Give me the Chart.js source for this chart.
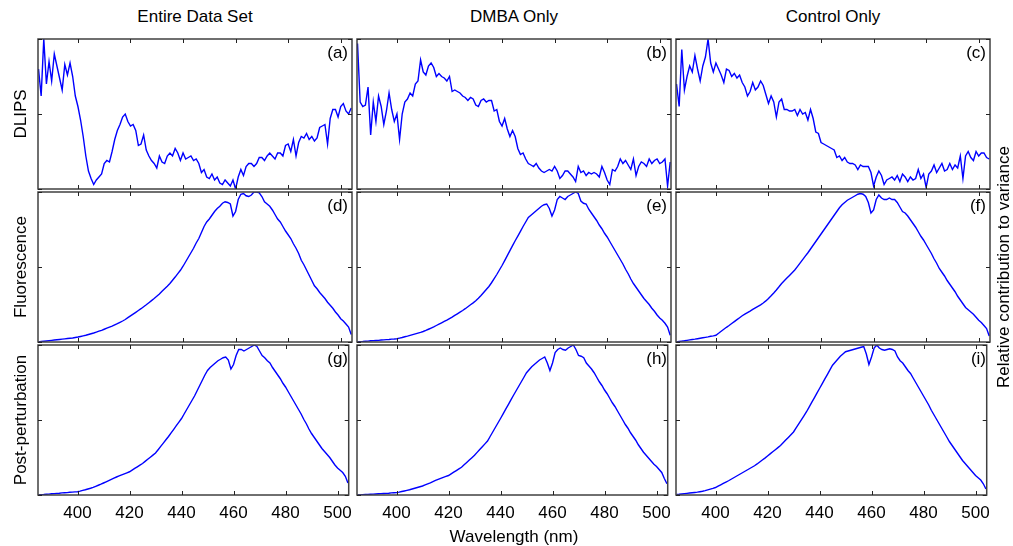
<!DOCTYPE html>
<html>
<head>
<meta charset="utf-8">
<script src="https://cdn.jsdelivr.net/npm/chart.js@4.4.1/dist/chart.umd.min.js"></script>
<style>
  body { margin: 0; background: #fff; }
  #fig { position: relative; width: 1013px; height: 546px; overflow: hidden;
         font-family: "Liberation Sans", Arial, sans-serif; color: #000; }
  #fig canvas { position: absolute; }
  .lbl { position: absolute; font-size: 17px; line-height: 20px; height: 20px; white-space: nowrap; text-align: center; }
  .rot { transform: rotate(-90deg); }
</style>
</head>
<body>
<div id="fig"></div>
<script>
// Wavelength grid (nm), one sample per nm
const wavelengths = [
  385, 386, 387, 388, 389, 390, 391, 392, 393, 394,
  395, 396, 397, 398, 399, 400, 401, 402, 403, 404,
  405, 406, 407, 408, 409, 410, 411, 412, 413, 414,
  415, 416, 417, 418, 419, 420, 421, 422, 423, 424,
  425, 426, 427, 428, 429, 430, 431, 432, 433, 434,
  435, 436, 437, 438, 439, 440, 441, 442, 443, 444,
  445, 446, 447, 448, 449, 450, 451, 452, 453, 454,
  455, 456, 457, 458, 459, 460, 461, 462, 463, 464,
  465, 466, 467, 468, 469, 470, 471, 472, 473, 474,
  475, 476, 477, 478, 479, 480, 481, 482, 483, 484,
  485, 486, 487, 488, 489, 490, 491, 492, 493, 494,
  495, 496, 497, 498, 499, 500, 501, 502, 503, 504
];
const xTicks = [400, 420, 440, 460, 480, 500];
const yTicks = [0, 0.5, 1];

const columnTitles = ['Entire Data Set', 'DMBA Only', 'Control Only'];
const rowTitles = ['DLIPS', 'Fluorescence', 'Post-perturbation'];
const panelLetters = ['(a)', '(b)', '(c)', '(d)', '(e)', '(f)', '(g)', '(h)', '(i)'];
const xTitle = 'Wavelength (nm)';
const sideTitle = 'Relative contribution to variance';

// DLIPS loadings (normalised)
const dlipsAll = [
  0.80, 0.62, 1.00, 0.70, 0.85, 0.72, 0.90, 0.82, 0.74, 0.66,
  0.83, 0.76, 0.84, 0.75, 0.62, 0.55, 0.46, 0.35, 0.22, 0.12,
  0.07, 0.03, 0.06, 0.08, 0.10, 0.17, 0.19, 0.18, 0.25, 0.33,
  0.39, 0.43, 0.48, 0.50, 0.45, 0.42, 0.43, 0.39, 0.29, 0.30,
  0.36, 0.26, 0.22, 0.19, 0.17, 0.14, 0.22, 0.18, 0.17, 0.22,
  0.24, 0.22, 0.27, 0.24, 0.19, 0.24, 0.20, 0.21, 0.22, 0.19,
  0.20, 0.17, 0.11, 0.13, 0.08, 0.07, 0.10, 0.06, 0.08, 0.04,
  0.03, 0.06, 0.04, 0.02, 0.06, 0.00, 0.08, 0.13, 0.09, 0.15,
  0.17, 0.17, 0.15, 0.17, 0.21, 0.21, 0.19, 0.22, 0.24, 0.22,
  0.20, 0.24, 0.24, 0.22, 0.29, 0.30, 0.25, 0.33, 0.22, 0.31,
  0.35, 0.34, 0.37, 0.33, 0.35, 0.32, 0.34, 0.41, 0.42, 0.43,
  0.30, 0.47, 0.53, 0.53, 0.48, 0.55, 0.57, 0.52, 0.50, 0.54
];
const dlipsDmba = [
  0.97, 0.58, 0.55, 0.56, 0.68, 0.36, 0.58, 0.45, 0.62, 0.55,
  0.43, 0.52, 0.64, 0.53, 0.45, 0.50, 0.33, 0.50, 0.58, 0.60,
  0.64, 0.62, 0.70, 0.72, 0.86, 0.78, 0.76, 0.82, 0.84, 0.81,
  0.75, 0.77, 0.75, 0.74, 0.72, 0.75, 0.65, 0.66, 0.65, 0.64,
  0.62, 0.61, 0.59, 0.61, 0.60, 0.56, 0.55, 0.59, 0.60, 0.58,
  0.59, 0.59, 0.52, 0.53, 0.45, 0.42, 0.47, 0.40, 0.35, 0.39,
  0.35, 0.27, 0.23, 0.24, 0.20, 0.17, 0.16, 0.15, 0.17, 0.14,
  0.12, 0.11, 0.12, 0.13, 0.12, 0.15, 0.12, 0.07, 0.09, 0.12,
  0.12, 0.10, 0.08, 0.05, 0.15, 0.11, 0.12, 0.09, 0.11, 0.10,
  0.11, 0.10, 0.08, 0.15, 0.11, 0.06, 0.03, 0.13, 0.12, 0.15,
  0.20, 0.17, 0.19, 0.16, 0.13, 0.20, 0.09, 0.15, 0.18, 0.17,
  0.15, 0.20, 0.17, 0.19, 0.20, 0.17, 0.18, 0.20, 0.02, 0.18
];
const dlipsControl = [
  0.70, 0.55, 0.93, 0.66, 0.75, 0.82, 0.78, 0.89, 0.80, 0.72,
  0.82, 0.88, 1.00, 0.84, 0.78, 0.84, 0.80, 0.76, 0.71, 0.80,
  0.79, 0.75, 0.77, 0.74, 0.76, 0.71, 0.68, 0.62, 0.65, 0.71,
  0.66, 0.68, 0.72, 0.69, 0.63, 0.57, 0.62, 0.58, 0.48, 0.58,
  0.60, 0.53, 0.53, 0.52, 0.52, 0.53, 0.49, 0.53, 0.50, 0.51,
  0.46, 0.53, 0.47, 0.38, 0.37, 0.31, 0.30, 0.29, 0.28, 0.27,
  0.26, 0.21, 0.22, 0.19, 0.21, 0.18, 0.17, 0.17, 0.16, 0.13,
  0.16, 0.15, 0.15, 0.15, 0.11, 0.02, 0.08, 0.12, 0.09, 0.03,
  0.06, 0.07, 0.08, 0.06, 0.09, 0.05, 0.10, 0.08, 0.05, 0.08,
  0.06, 0.07, 0.13, 0.07, 0.10, 0.01, 0.10, 0.12, 0.16, 0.11,
  0.14, 0.17, 0.12, 0.13, 0.17, 0.13, 0.16, 0.14, 0.22, 0.07,
  0.22, 0.25, 0.21, 0.19, 0.25, 0.22, 0.24, 0.24, 0.21, 0.20
];

// Fluorescence loadings
const fluorAll = [
  0.000, 0.003, 0.005, 0.007, 0.009, 0.011, 0.013, 0.015, 0.017, 0.019, 0.021, 0.023, 0.025, 0.027, 0.030,
  0.033, 0.037, 0.041, 0.045, 0.050, 0.055, 0.060, 0.066, 0.072, 0.078, 0.085, 0.092, 0.099, 0.106, 0.114,
  0.122, 0.131, 0.140, 0.150, 0.162, 0.174, 0.186, 0.198, 0.210, 0.222, 0.235, 0.248, 0.262, 0.276, 0.290,
  0.305, 0.320, 0.338, 0.355, 0.372, 0.390, 0.412, 0.433, 0.456, 0.478, 0.505, 0.535, 0.565, 0.595, 0.625,
  0.660, 0.690, 0.730, 0.770, 0.800, 0.820, 0.845, 0.870, 0.890, 0.905, 0.925, 0.935, 0.930, 0.920, 0.840,
  0.870, 0.950, 0.985, 0.990, 0.975, 0.970, 0.980, 1.000, 1.000, 0.995, 0.970, 0.935, 0.920, 0.905, 0.880,
  0.850, 0.820, 0.800, 0.770, 0.740, 0.715, 0.690, 0.655, 0.625, 0.590, 0.545, 0.515, 0.480, 0.445, 0.410,
  0.375, 0.355, 0.330, 0.310, 0.290, 0.265, 0.245, 0.225, 0.200, 0.180, 0.155, 0.140, 0.120, 0.100, 0.050
];
const fluorDmba = [
  0.000, 0.002, 0.003, 0.005, 0.006, 0.008, 0.009, 0.010, 0.011, 0.013, 0.014, 0.016, 0.017, 0.019, 0.020,
  0.022, 0.026, 0.030, 0.035, 0.039, 0.044, 0.049, 0.054, 0.059, 0.064, 0.070, 0.077, 0.085, 0.093, 0.101,
  0.110, 0.119, 0.128, 0.137, 0.146, 0.156, 0.166, 0.177, 0.188, 0.199, 0.210, 0.222, 0.235, 0.248, 0.261,
  0.275, 0.292, 0.310, 0.330, 0.350, 0.370, 0.395, 0.422, 0.450, 0.480, 0.510, 0.543, 0.576, 0.609, 0.642,
  0.675, 0.706, 0.738, 0.770, 0.800, 0.830, 0.845, 0.860, 0.875, 0.890, 0.905, 0.915, 0.920, 0.890, 0.840,
  0.880, 0.950, 0.970, 0.960, 0.950, 0.970, 0.980, 0.990, 1.000, 0.990, 0.940, 0.925, 0.920, 0.885, 0.860,
  0.835, 0.810, 0.780, 0.755, 0.725, 0.700, 0.670, 0.640, 0.610, 0.580, 0.550, 0.520, 0.485, 0.455, 0.420,
  0.390, 0.365, 0.340, 0.315, 0.290, 0.270, 0.250, 0.225, 0.205, 0.180, 0.160, 0.145, 0.125, 0.100, 0.045
];
const fluorControl = [
  0.000, 0.003, 0.006, 0.008, 0.011, 0.014, 0.017, 0.019, 0.022, 0.025, 0.028, 0.031, 0.034, 0.038, 0.041,
  0.045, 0.058, 0.072, 0.085, 0.098, 0.110, 0.123, 0.136, 0.149, 0.162, 0.175, 0.186, 0.196, 0.206, 0.217,
  0.228, 0.238, 0.248, 0.260, 0.274, 0.290, 0.308, 0.327, 0.347, 0.368, 0.390, 0.408, 0.426, 0.444, 0.462,
  0.480, 0.503, 0.526, 0.549, 0.572, 0.595, 0.620, 0.645, 0.670, 0.695, 0.720, 0.745, 0.770, 0.795, 0.820,
  0.845, 0.870, 0.895, 0.915, 0.930, 0.945, 0.955, 0.965, 0.975, 0.985, 0.990, 0.985, 0.970, 0.930, 0.860,
  0.880, 0.950, 0.980, 0.960, 0.950, 0.950, 0.960, 0.950, 0.950, 0.930, 0.900, 0.870, 0.860, 0.840, 0.815,
  0.790, 0.765, 0.735, 0.705, 0.680, 0.650, 0.620, 0.590, 0.555, 0.525, 0.490, 0.465, 0.440, 0.410, 0.385,
  0.360, 0.335, 0.305, 0.280, 0.255, 0.230, 0.215, 0.200, 0.185, 0.165, 0.145, 0.130, 0.110, 0.090, 0.040
];

// Post-perturbation loadings
const postAll = [
  0.000, 0.002, 0.003, 0.005, 0.006, 0.008, 0.009, 0.011, 0.012, 0.014, 0.015, 0.016, 0.018, 0.019, 0.021,
  0.022, 0.026, 0.031, 0.035, 0.040, 0.045, 0.051, 0.058, 0.065, 0.072, 0.080, 0.088, 0.096, 0.104, 0.112,
  0.120, 0.127, 0.134, 0.141, 0.148, 0.155, 0.166, 0.177, 0.188, 0.199, 0.210, 0.224, 0.238, 0.252, 0.266,
  0.280, 0.302, 0.324, 0.346, 0.368, 0.390, 0.414, 0.438, 0.462, 0.486, 0.510, 0.540, 0.570, 0.600, 0.630,
  0.660, 0.695, 0.730, 0.765, 0.800, 0.830, 0.850, 0.865, 0.880, 0.895, 0.905, 0.915, 0.920, 0.900, 0.840,
  0.870, 0.930, 0.970, 0.970, 0.960, 0.970, 0.980, 0.990, 1.000, 0.990, 0.960, 0.930, 0.915, 0.895, 0.880,
  0.850, 0.825, 0.800, 0.775, 0.745, 0.720, 0.690, 0.660, 0.630, 0.600, 0.570, 0.540, 0.505, 0.475, 0.440,
  0.410, 0.385, 0.360, 0.335, 0.310, 0.290, 0.270, 0.250, 0.225, 0.200, 0.180, 0.165, 0.150, 0.125, 0.080
];
const postDmba = [
  0.000, 0.001, 0.002, 0.003, 0.004, 0.005, 0.006, 0.007, 0.008, 0.009, 0.010, 0.011, 0.012, 0.014, 0.015,
  0.016, 0.019, 0.023, 0.027, 0.031, 0.035, 0.040, 0.045, 0.050, 0.055, 0.060, 0.067, 0.074, 0.081, 0.089,
  0.097, 0.104, 0.111, 0.118, 0.124, 0.130, 0.141, 0.152, 0.163, 0.174, 0.185, 0.201, 0.217, 0.233, 0.249,
  0.265, 0.284, 0.303, 0.322, 0.341, 0.360, 0.390, 0.420, 0.450, 0.480, 0.510, 0.541, 0.572, 0.603, 0.634,
  0.665, 0.695, 0.725, 0.755, 0.785, 0.815, 0.835, 0.855, 0.870, 0.885, 0.900, 0.910, 0.920, 0.880, 0.830,
  0.880, 0.950, 0.970, 0.980, 0.970, 0.965, 0.980, 0.990, 1.000, 0.970, 0.930, 0.925, 0.915, 0.880, 0.860,
  0.840, 0.815, 0.785, 0.755, 0.730, 0.700, 0.675, 0.645, 0.615, 0.590, 0.560, 0.530, 0.500, 0.470, 0.445,
  0.415, 0.390, 0.365, 0.335, 0.310, 0.285, 0.265, 0.245, 0.225, 0.205, 0.190, 0.170, 0.150, 0.110, 0.075
];
const postControl = [
  0.004, 0.005, 0.007, 0.009, 0.011, 0.013, 0.015, 0.017, 0.019, 0.022, 0.025, 0.029, 0.034, 0.039, 0.044,
  0.050, 0.059, 0.068, 0.077, 0.086, 0.095, 0.105, 0.115, 0.125, 0.135, 0.145, 0.155, 0.165, 0.175, 0.185,
  0.195, 0.207, 0.220, 0.233, 0.246, 0.260, 0.274, 0.288, 0.302, 0.316, 0.330, 0.348, 0.366, 0.384, 0.402,
  0.420, 0.447, 0.474, 0.501, 0.528, 0.555, 0.586, 0.617, 0.648, 0.679, 0.710, 0.741, 0.772, 0.803, 0.834,
  0.865, 0.885, 0.905, 0.925, 0.940, 0.955, 0.960, 0.965, 0.970, 0.975, 0.980, 0.985, 0.990, 0.940, 0.870,
  0.920, 0.980, 1.000, 0.980, 0.970, 0.965, 0.970, 0.975, 0.970, 0.960, 0.920, 0.895, 0.880, 0.855, 0.830,
  0.810, 0.780, 0.750, 0.720, 0.690, 0.660, 0.630, 0.600, 0.565, 0.535, 0.505, 0.475, 0.445, 0.415, 0.385,
  0.355, 0.330, 0.305, 0.280, 0.255, 0.230, 0.210, 0.190, 0.170, 0.150, 0.130, 0.115, 0.100, 0.075, 0.040
];

const panelSeries = [
  [dlipsAll, dlipsDmba, dlipsControl],
  [fluorAll, fluorDmba, fluorControl],
  [postAll, postDmba, postControl]
];

// Layout of the 3x3 grid
const colLeft = [38, 357, 676];
const rowTop = [39, 192, 345];
const panelW = 314, panelH = 150;
const pad = 8, axisH = 36;
const xMin = 384.8, xMax = 504.3;
const fontFamily = "'Liberation Sans', Arial, sans-serif";

const fig = document.getElementById('fig');

// box frame with inward ticks, like the original axes
const framePlugin = {
  id: 'frame',
  afterDraw(chart) {
    const { ctx, chartArea: a, scales: { x, y } } = chart;
    ctx.save();
    ctx.strokeStyle = '#404040';
    ctx.lineWidth = 1.5;
    ctx.strokeRect(a.left, a.top, a.right - a.left, a.bottom - a.top);
    ctx.strokeStyle = '#222';
    ctx.lineWidth = 1;
    ctx.beginPath();
    xTicks.forEach(v => {
      const px = Math.round(x.getPixelForValue(v)) + 0.5;
      ctx.moveTo(px, a.top); ctx.lineTo(px, a.top + 4);
      ctx.moveTo(px, a.bottom); ctx.lineTo(px, a.bottom - 4);
    });
    yTicks.forEach(v => {
      const py = Math.round(y.getPixelForValue(v)) + 0.5;
      ctx.moveTo(a.left, py); ctx.lineTo(a.left + 4, py);
      ctx.moveTo(a.right, py); ctx.lineTo(a.right - 4, py);
    });
    ctx.stroke();
    ctx.restore();
  }
};

function addLabel(text, left, top, width, rotated) {
  const d = document.createElement('div');
  d.className = 'lbl' + (rotated ? ' rot' : '');
  d.textContent = text;
  d.style.left = left + 'px';
  d.style.top = top + 'px';
  d.style.width = width + 'px';
  fig.appendChild(d);
  return d;
}

for (let r = 0; r < 3; r++) {
  for (let c = 0; c < 3; c++) {
    const bottomRow = r === 2;
    const canvas = document.createElement('canvas');
    const w = panelW + 2 * pad;
    const h = panelH + pad + (bottomRow ? axisH : pad);
    canvas.width = w; canvas.height = h;
    canvas.style.width = w + 'px'; canvas.style.height = h + 'px';
    canvas.style.left = (colLeft[c] - pad) + 'px';
    canvas.style.top = (rowTop[r] - pad) + 'px';
    fig.appendChild(canvas);

    const values = panelSeries[r][c];
    new Chart(canvas, {
      type: 'line',
      data: {
        datasets: [{
          data: wavelengths.map((wl, i) => ({ x: wl, y: values[i] })),
          borderColor: '#0000ff',
          borderWidth: 1.4,
          pointRadius: 0,
          tension: 0,
          fill: false
        }]
      },
      options: {
        responsive: false,
        animation: false,
        devicePixelRatio: 1,
        layout: { padding: { left: pad, right: pad, top: pad, bottom: bottomRow ? 0 : pad } },
        plugins: { legend: { display: false }, tooltip: { enabled: false } },
        scales: {
          x: {
            type: 'linear',
            min: xMin,
            max: xMax,
            display: bottomRow,
            afterBuildTicks: s => { s.ticks = xTicks.map(v => ({ value: v })); },
            afterFit: bottomRow ? (s => { s.height = axisH; }) : undefined,
            grid: { display: false, drawTicks: false },
            border: { display: false },
            ticks: {
              color: '#000',
              font: { family: fontFamily, size: 17 },
              padding: 8,
              maxRotation: 0,
              autoSkip: false
            }
          },
          y: { display: false, min: 0, max: 1 }
        }
      },
      plugins: [framePlugin]
    });

    const letter = addLabel(panelLetters[r * 3 + c], colLeft[c] + panelW - 4 - 40, rowTop[r] + 4, 40, false);
    letter.style.textAlign = 'right';
  }
}

// column titles
columnTitles.forEach((t, c) => addLabel(t, colLeft[c] + panelW / 2 - 100, 7, 200, false));
// row titles (rotated)
rowTitles.forEach((t, r) => addLabel(t, 21 - 100, rowTop[r] + panelH / 2 - 10, 200, true));
// side title and x title
addLabel(sideTitle, 1004 - 160, rowTop[1] + panelH / 2 - 10, 320, true);
addLabel(xTitle, colLeft[1] + panelW / 2 - 100, 527, 200, false);
</script>
</body>
</html>
